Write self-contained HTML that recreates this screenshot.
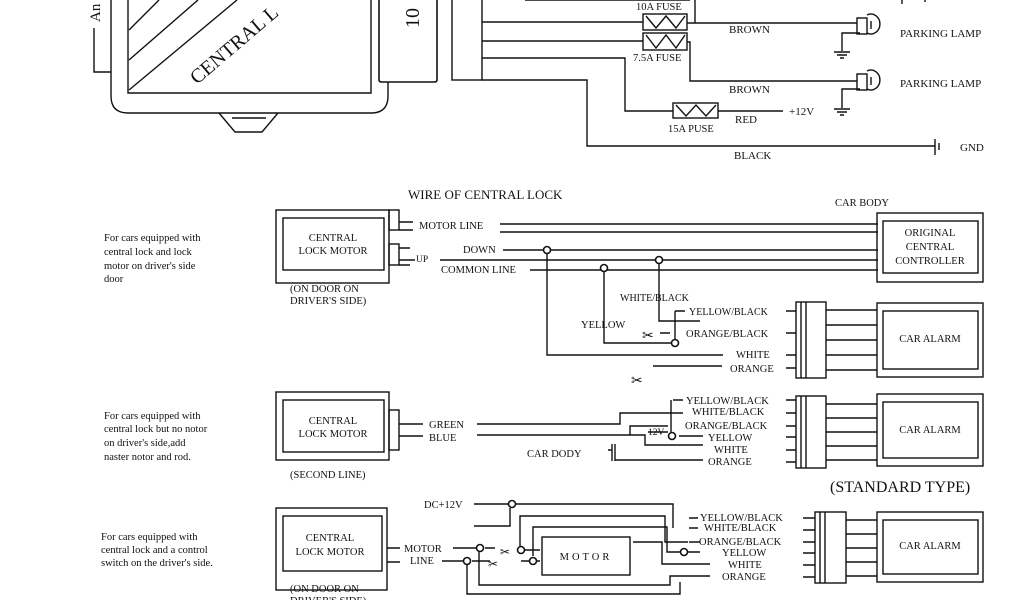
<!DOCTYPE html>
<html><head><meta charset="utf-8"><style>
html,body{margin:0;padding:0;background:#fff;width:1024px;height:600px;overflow:hidden}
svg{display:block}
text{font-family:"Liberation Serif",serif;font-size:10.5px;fill:#111}
.l{stroke:#111;stroke-width:1.4;fill:none}
.b{stroke:#111;stroke-width:1.6;fill:#fff}
</style></head><body>
<svg width="1024" height="600" viewBox="0 0 1024 600">
<!-- TOP MODULE -->
<path class="l" d="M94 28 V72 H111"/>
<text transform="translate(100,22) rotate(-90)" style="font-size:15px">An</text>
<path class="l" d="M111 0 V96 Q111 113 128 113 H371 Q388 113 388 96 V0"/>
<path class="l" d="M128 0 V93 H371 V0"/>
<path class="l" d="M129 90 L237 0 M129 60 L198 0 M129 30 L159 0"/>
<text transform="translate(197,85) rotate(-40.5)" style="font-size:20px">CENTRAL L</text>
<path class="l" d="M219 113 L235 132 H262 L278 113"/>
<path class="l" d="M232 118 H266"/>
<rect class="b" x="379" y="-2" width="58" height="84" rx="2"/>
<text transform="translate(419,28) rotate(-90)" style="font-size:20px">10</text>
<rect class="l" x="452" y="-2" width="30" height="82"/>
<path class="l" d="M482 22 H643 M482 41 H643 M482 58 H625 V111 H673 M482 80 H587 V146 H935"/>
<rect class="l" x="643" y="14" width="44" height="16"/><path class="l" d="M646 16 L656 28 L666 16 L676 28 L685 16"/>
<rect class="l" x="643" y="33" width="44" height="17"/><path class="l" d="M646 35 L656 48 L666 35 L676 48 L685 35"/>
<rect class="l" x="673" y="103" width="45" height="15"/><path class="l" d="M676 105 L686 116 L696 105 L706 116 L716 105"/>
<path class="l" d="M525 0 H690 M695 0 V23"/>
<text x="636" y="10" style="font-size:10.5px">10A FUSE</text>
<text x="633" y="61" style="font-size:10.5px">7.5A FUSE</text>
<text x="668" y="132" style="font-size:10.5px">15A PUSE</text>
<path class="l" d="M687 23 H857 M687 42 H690 V81 H857 M718 111 H783"/>
<text x="729" y="33" style="font-size:11px">BROWN</text><text x="729" y="93" style="font-size:11px">BROWN</text>
<text x="735" y="123" style="font-size:11px">RED</text><text x="789" y="115" style="font-size:11px">+12V</text>
<text x="734" y="159" style="font-size:11px">BLACK</text>
<path class="l" d="M935 139 V155 M939 143 V150"/><text x="960" y="151" style="font-size:11px">GND</text>
<g><rect class="l" x="857" y="18" width="10" height="16"/><path class="l" d="M867 15 A9 10 0 1 1 867 33"/><path class="l" d="M871 21 V29"/>
<path class="l" d="M860 33 H842 V51 M834 52 H850 M837 55 H847 M840 58 H844"/></g>
<g><rect class="l" x="857" y="74" width="10" height="16"/><path class="l" d="M867 71 A9 10 0 1 1 867 89"/><path class="l" d="M871 77 V85"/>
<path class="l" d="M860 89 H842 V108 M834 109 H850 M837 112 H847 M840 115 H844"/></g>
<text x="900" y="37" style="font-size:11px">PARKING LAMP</text><text x="900" y="87" style="font-size:11px">PARKING LAMP</text>
<path class="l" d="M902 0 V4 M925 0 V2"/>

<!-- SECTION 1 -->
<text x="408" y="199" style="font-size:13px">WIRE OF CENTRAL LOCK</text>
<text x="104" y="241">For cars equipped with</text>
<text x="104" y="255">central lock and lock</text>
<text x="104" y="269">motor on driver's side</text>
<text x="104" y="282">door</text>
<rect class="l" x="276" y="210" width="113" height="73"/>
<rect class="l" x="283" y="218" width="101" height="52"/>
<text x="333" y="241" text-anchor="middle">CENTRAL</text>
<text x="333" y="254" text-anchor="middle">LOCK MOTOR</text>
<text x="290" y="292">(ON DOOR ON</text><text x="290" y="304">DRIVER'S SIDE)</text>
<rect class="l" x="389" y="210" width="10" height="20"/>
<rect class="l" x="389" y="244" width="10" height="21"/>
<path class="l" d="M399 222 H413 M399 230 H413 M399 248 H410 M399 260 H415 M399 265 H410"/>
<text x="419" y="229">MOTOR LINE</text>
<text x="463" y="253">DOWN</text>
<text x="416" y="262" style="font-size:9.5px">UP</text>
<text x="441" y="273">COMMON LINE</text>
<path class="l" d="M500 224 H878 M500 232 H878 M503 250 H878 M440 260 H878 M530 270 H878"/>
<circle class="b" cx="547" cy="250" r="3.5"/><circle class="b" cx="659" cy="260" r="3.5"/><circle class="b" cx="604" cy="268" r="3.5"/>
<path class="l" d="M547 254 V355 H723 M604 272 V343 H675 M659 264 V321 H700 M675 311 V339 M675 311 H685 M660 333 H670"/>
<circle class="b" cx="675" cy="343" r="3.5"/>
<path class="l" d="M653 366 H722"/>
<text x="620" y="301" style="font-size:10px">WHITE/BLACK</text>
<text x="581" y="328">YELLOW</text>
<text x="689" y="315" style="font-size:10px">YELLOW/BLACK</text>
<text x="686" y="337">ORANGE/BLACK</text>
<text x="736" y="358">WHITE</text>
<text x="730" y="372">ORANGE</text>
<text x="642" y="340" style="font-size:14px">✂</text>
<text x="631" y="385" style="font-size:14px">✂</text>
<text x="835" y="206">CAR BODY</text>
<rect class="l" x="877" y="213" width="106" height="69"/>
<rect class="l" x="883" y="221" width="95" height="52"/>
<text x="930" y="236" text-anchor="middle">ORIGINAL</text>
<text x="930" y="250" text-anchor="middle">CENTRAL</text>
<text x="930" y="264" text-anchor="middle">CONTROLLER</text>
<rect class="l" x="796" y="302" width="30" height="76"/>
<path class="l" d="M801 302 V378 M806 302 V378 M826 310 H877 M826 325 H877 M826 340 H877 M826 355 H877 M826 370 H877 M786 311 H796 M786 333 H796 M786 355 H796 M786 368 H796"/>
<rect class="l" x="877" y="303" width="106" height="74"/>
<rect class="l" x="883" y="311" width="95" height="58"/>
<text x="930" y="342" text-anchor="middle">CAR ALARM</text>

<!-- SECTION 2 -->
<text x="104" y="419">For cars equipped with</text>
<text x="104" y="432">central lock but no notor</text>
<text x="104" y="446">on driver's side,add</text>
<text x="104" y="460">naster notor and rod.</text>
<rect class="l" x="276" y="392" width="113" height="68"/>
<rect class="l" x="283" y="400" width="101" height="52"/>
<text x="333" y="424" text-anchor="middle">CENTRAL</text>
<text x="333" y="437" text-anchor="middle">LOCK MOTOR</text>
<text x="290" y="478">(SECOND LINE)</text>
<rect class="l" x="389" y="410" width="10" height="40"/>
<path class="l" d="M399 424 H423 M399 436 H423"/>
<text x="429" y="428">GREEN</text><text x="429" y="441">BLUE</text>
<path class="l" d="M477 424 H620 V413 H683 M477 435 H645 V445 H703 M630 435 V426 H668 M673 400 H683 M671 400 V432 M612 450 H608 M612 444 V461 M615 444 V461 M615 460 H703"/>
<path class="l" d="M648 432 H668 M679 436 H703"/>
<circle class="b" cx="672" cy="436" r="3.5"/>
<text x="648" y="435" style="font-size:9.5px">12V</text>
<text x="527" y="457">CAR DODY</text>
<text x="686" y="404">YELLOW/BLACK</text>
<text x="692" y="415">WHITE/BLACK</text>
<text x="685" y="429">ORANGE/BLACK</text>
<text x="708" y="441">YELLOW</text>
<text x="714" y="453">WHITE</text>
<text x="708" y="465">ORANGE</text>
<rect class="l" x="796" y="396" width="30" height="72"/>
<path class="l" d="M801 396 V468 M806 396 V468 M786 400 H796 M786 413 H796 M786 426 H796 M786 437 H796 M786 450 H796 M786 462 H796 M826 404 H877 M826 418 H877 M826 432 H877 M826 446 H877 M826 460 H877"/>
<rect class="l" x="877" y="394" width="106" height="72"/>
<rect class="l" x="883" y="402" width="95" height="56"/>
<text x="930" y="433" text-anchor="middle">CAR ALARM</text>
<text x="830" y="492" style="font-size:16px">(STANDARD TYPE)</text>

<!-- SECTION 3 -->
<text x="101" y="540">For cars equipped with</text>
<text x="101" y="553">central lock and a control</text>
<text x="101" y="566">switch on the driver's side.</text>
<rect class="l" x="276" y="508" width="111" height="82"/>
<rect class="l" x="283" y="516" width="99" height="55"/>
<text x="330" y="541" text-anchor="middle">CENTRAL</text>
<text x="330" y="555" text-anchor="middle">LOCK MOTOR</text>
<text x="290" y="592">(ON DOOR ON</text><text x="290" y="604">DRIVER'S SIDE)</text>
<path class="l" d="M387 548 H400 M387 562 H400"/>
<text x="404" y="552">MOTOR</text><text x="410" y="564">LINE</text>
<text x="424" y="508">DC+12V</text>
<path class="l" d="M474 504 H508 M516 504 H673 V528 M474 526 H510 V508 M453 548 H476 M485 548 H495 M442 561 H463 M472 561 H490 M522 550 H540 M521 561 H540 M520 546 V516 H665 V542 H688 M533 556 V527 H667 V552 H683 M633 542 H662 V564 H710 M479 552 V585 H670 V576 H710 M467 565 V594 H680 V582"/>
<circle class="b" cx="512" cy="504" r="3.5"/><circle class="b" cx="480" cy="548" r="3.5"/><circle class="b" cx="467" cy="561" r="3.5"/>
<circle class="b" cx="521" cy="550" r="3.5"/><circle class="b" cx="533" cy="561" r="3.5"/><circle class="b" cx="684" cy="552" r="3.5"/>
<text x="500" y="556" style="font-size:12px">✂</text><text x="488" y="568" style="font-size:12px">✂</text>
<rect class="l" x="542" y="537" width="88" height="38"/>
<text x="586" y="560" text-anchor="middle" style="letter-spacing:3px">MOTOR</text>
<path class="l" d="M689 518 H698 M689 528 H698 M689 542 H700 M688 552 H700"/>
<text x="700" y="521">YELLOW/BLACK</text>
<text x="704" y="531">WHITE/BLACK</text>
<text x="699" y="545">ORANGE/BLACK</text>
<text x="722" y="556">YELLOW</text>
<text x="728" y="568">WHITE</text>
<text x="722" y="580">ORANGE</text>
<rect class="l" x="815" y="512" width="31" height="71"/>
<path class="l" d="M820 512 V583 M825 512 V583 M803 518 H815 M803 530 H815 M803 542 H815 M803 553 H815 M803 565 H815 M803 577 H815 M846 520 H877 M846 534 H877 M846 548 H877 M846 562 H877 M846 576 H877"/>
<rect class="l" x="877" y="512" width="106" height="70"/>
<rect class="l" x="883" y="520" width="95" height="54"/>
<text x="930" y="549" text-anchor="middle">CAR ALARM</text>
</svg>
</body></html>
